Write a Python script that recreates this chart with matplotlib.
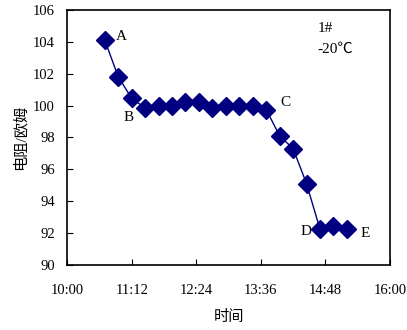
import matplotlib.pyplot as plt
import matplotlib.ticker as mticker

# time in minutes after 10:00, resistance in ohm
minutes = [42, 57, 72, 87, 102, 117, 132, 147, 162, 177, 192, 207, 222,
           237, 252, 267, 282, 297, 312]
resistance = [104.1, 101.8, 100.45, 99.85, 99.95, 100.0, 100.25, 100.2,
              99.85, 99.95, 100.0, 99.95, 99.75, 98.1, 97.3, 95.1, 92.25,
              92.45, 92.25]
tick_minutes = [0, 72, 144, 216, 288, 360]
tick_labels = ["10:00", "11:12", "12:24", "13:36", "14:48", "16:00"]
point_labels = {"A": 0, "B": 2, "C": 12, "D": 16, "E": 18}

fonts = ["Liberation Serif", "Noto Sans CJK SC", "DejaVu Sans"]
plt.rcParams["font.family"] = fonts

fig = plt.figure(figsize=(4.07, 3.30), dpi=100)
ax = fig.add_axes([0.165, 0.197, 0.793, 0.773])

ax.plot(minutes, resistance, color="#000080", linewidth=1,
        marker="D", markersize=9, markerfacecolor="#000080",
        markeredgecolor="#000080")

ax.set_xlim(0, 360)
ax.set_ylim(90, 106)
ax.set_xticks(tick_minutes)
ax.set_xticklabels(tick_labels)
ax.yaxis.set_major_locator(mticker.MultipleLocator(2))
ax.tick_params(direction="in", length=4, labelsize=10.5)
ax.tick_params(axis="x", pad=14)
ax.tick_params(axis="y", pad=9)
for s in ax.spines.values():
    s.set_linewidth(1.2)

offsets = {"A": (8, 3), "B": (-6, -14), "C": (10, 5), "D": (-14, -2), "E": (10, -3)}
for name, i in point_labels.items():
    ax.annotate(name, (minutes[i], resistance[i]), xytext=offsets[name],
                textcoords="offset points", fontsize=11, ha="left", va="center")

ax.text(0.775, 0.915, "1#", transform=ax.transAxes, fontsize=11)
ax.text(0.775, 0.83, "-20℃", transform=ax.transAxes, fontsize=11)

ax.set_xlabel("时间", fontsize=11, labelpad=9)
ax.set_ylabel("电阻/欧姆", fontsize=11, labelpad=4)

fig.savefig("out.png", dpi=100)
